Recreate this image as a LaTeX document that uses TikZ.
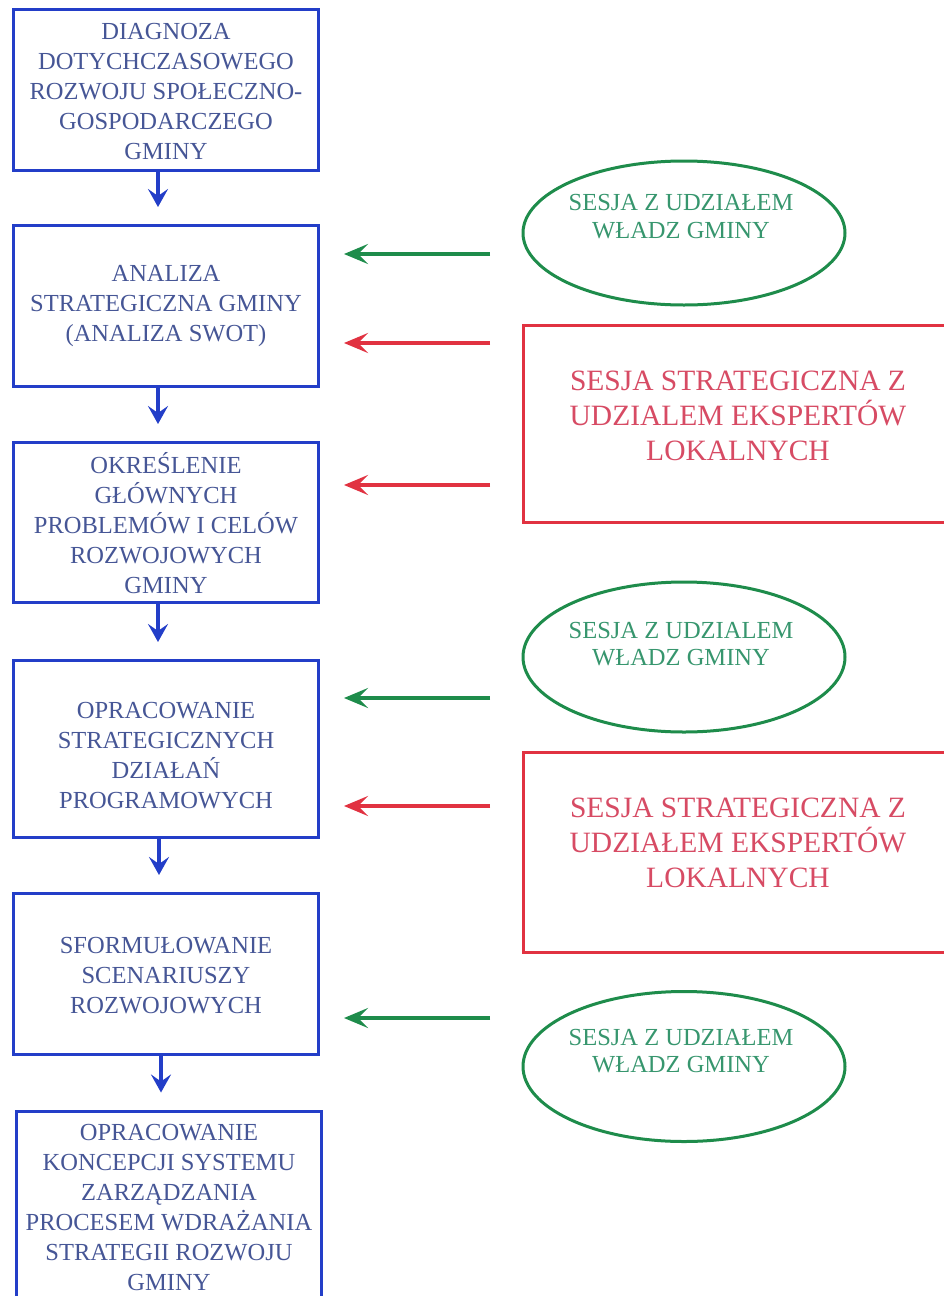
\documentclass[tikz,border=0pt]{standalone}
\usepackage{fontspec}
\setmainfont{Liberation Serif}
\usetikzlibrary{arrows.meta,shapes.geometric}
\definecolor{bblue}{RGB}{35,62,200}
\definecolor{btext}{RGB}{70,86,150}
\definecolor{ggreen}{RGB}{30,140,75}
\definecolor{gtext}{RGB}{55,150,110}
\definecolor{rred}{RGB}{225,50,65}
\definecolor{rtext}{RGB}{215,75,100}
\begin{document}
\begin{tikzpicture}[x=1pt,y=-1pt,
  bbox/.style={draw=bblue,line width=3pt,minimum width=305pt,inner sep=0pt},
  btxt/.style={text=btext,align=center,inner sep=0pt,font=\fontsize{24.5}{30}\selectfont},
  gell/.style={ellipse,draw=ggreen,line width=3pt,minimum width=322pt,inner sep=0pt},
  gtxt/.style={text=gtext,align=center,inner sep=0pt,font=\fontsize{24.5}{27.5}\selectfont},
  rbox/.style={draw=rred,line width=3pt,minimum width=437pt,inner sep=0pt},
  rtxt/.style={text=rtext,align=center,inner sep=0pt,font=\fontsize{29.5}{35}\selectfont},
  barrow/.style={draw=bblue,line width=3.5pt,-{Stealth[length=18pt,width=20pt,inset=7pt]},shorten >=17pt},
  garrow/.style={draw=ggreen,line width=3.5pt,-{Stealth[length=24pt,width=20pt,inset=10pt]},shorten >=24pt},
  rarrow/.style={draw=rred,line width=3.5pt,-{Stealth[length=24pt,width=20pt,inset=10pt]},shorten >=24pt}
]
\clip (0,0) rectangle (944,1296);
\fill[white] (0,0) rectangle (944,1296);

% blue process boxes
\node[bbox,minimum height=161pt] (b1) at (166,90) {};
\node[btxt] (t1) at (166,92) {DIAGNOZA\\DOTYCHCZASOWEGO\\ROZWOJU SPOŁECZNO-\\GOSPODARCZEGO\\GMINY};
\node[bbox,minimum height=161pt] (b2) at (166,306) {};
\node[btxt] (t2) at (166,306) {ANALIZA\\STRATEGICZNA GMINY\\(ANALIZA SWOT)};
\node[bbox,minimum height=160pt] (b3) at (166,522.5) {};
\node[btxt] (t3) at (166,523) {OKREŚLENIE\\GŁÓWNYCH\\PROBLEMÓW I CELÓW\\ROZWOJOWYCH\\GMINY};
\node[bbox,minimum height=177pt] (b4) at (166,749) {};
\node[btxt] (t4) at (166,756) {OPRACOWANIE\\STRATEGICZNYCH\\DZIAŁAŃ\\PROGRAMOWYCH};
\node[bbox,minimum height=161pt] (b5) at (166,974) {};
\node[btxt] (t5) at (166,976) {SFORMUŁOWANIE\\SCENARIUSZY\\ROZWOJOWYCH};
\node[bbox,minimum height=200pt] (b6) at (169,1211) {};
\node[btxt] (t6) at (169,1207) {OPRACOWANIE\\KONCEPCJI SYSTEMU\\ZARZĄDZANIA\\PROCESEM WDRAŻANIA\\STRATEGII ROZWOJU\\GMINY};

% blue arrows
\draw[barrow] ([xshift=-8pt]b1.south) -- ([xshift=-8pt]b1.south |- b2.north);
\draw[barrow] ([xshift=-8pt]b2.south) -- ([xshift=-8pt]b2.south |- b3.north);
\draw[barrow] ([xshift=-8pt]b3.south) -- ([xshift=-8pt]b3.south |- b4.north);
\draw[barrow] ([xshift=-7pt]b4.south) -- ([xshift=-7pt]b4.south |- b5.north);
\draw[barrow] ([xshift=-5pt]b5.south) -- ([xshift=-5pt]b5.south |- b6.north);

% green sessions
\node[gell,minimum height=144pt] (e1) at (684,233) {};
\node[gtxt] (g1) at (681,216.5) {SESJA Z UDZIAŁEM\\WŁADZ GMINY};
\node[gell,minimum height=150pt] (e2) at (684,657) {};
\node[gtxt] (g2) at (681,644) {SESJA Z UDZIALEM\\WŁADZ GMINY};
\node[gell,minimum height=150pt] (e3) at (684,1066.5) {};
\node[gtxt] (g3) at (681,1051) {SESJA Z UDZIAŁEM\\WŁADZ GMINY};

% red sessions
\node[rbox,minimum height=197pt] (r1) at (741.5,423.5) {};
\node[rtxt] (s1) at (738,415.5) {SESJA STRATEGICZNA Z\\UDZIALEM EKSPERTÓW\\LOKALNYCH};
\node[rbox,minimum height=200pt] (r2) at (741.5,852) {};
\node[rtxt] (s2) at (738,843) {SESJA STRATEGICZNA Z\\UDZIAŁEM EKSPERTÓW\\LOKALNYCH};

% arrow start points
\coordinate (a1) at (490,254);
\coordinate (a2) at (490,343);
\coordinate (a3) at (490,485);
\coordinate (a4) at (490,698);
\coordinate (a5) at (490,806);
\coordinate (a6) at (490,1018);

\draw[garrow] (a1) -- (a1 -| b2.east);
\draw[rarrow] (a2) -- (a2 -| b2.east);
\draw[rarrow] (a3) -- (a3 -| b3.east);
\draw[garrow] (a4) -- (a4 -| b4.east);
\draw[rarrow] (a5) -- (a5 -| b4.east);
\draw[garrow] (a6) -- (a6 -| b5.east);
\end{tikzpicture}
\end{document}
